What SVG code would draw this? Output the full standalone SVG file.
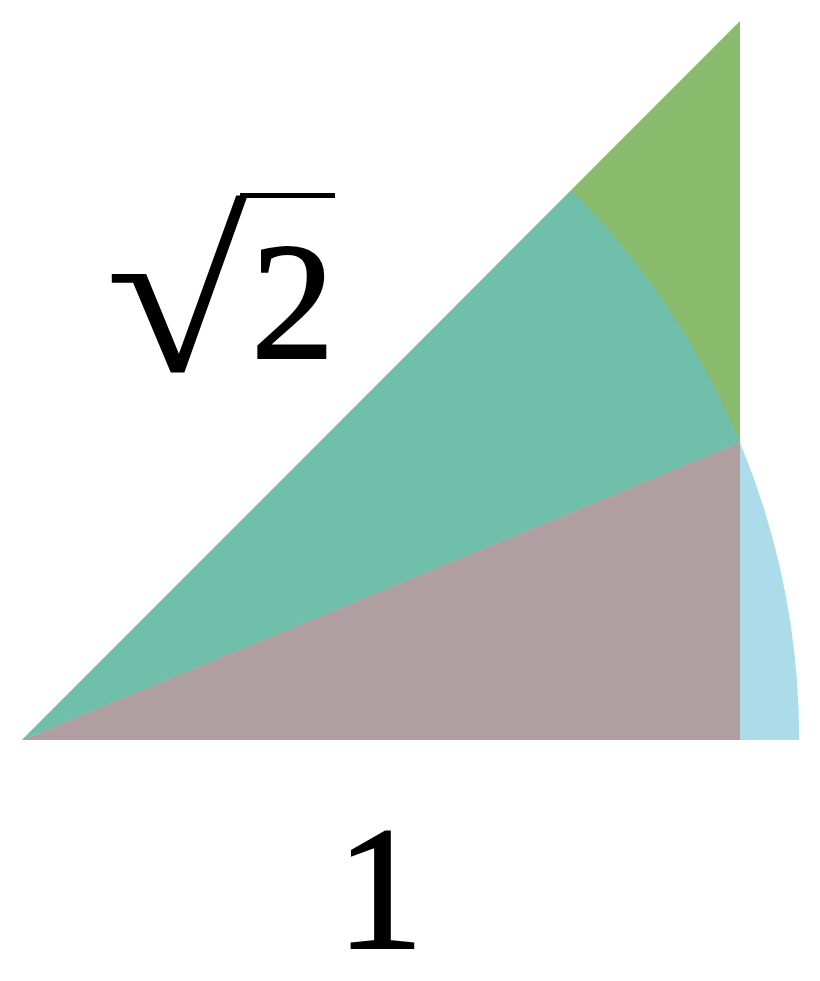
<svg xmlns="http://www.w3.org/2000/svg" width="820" height="981" viewBox="0 0 820 981">
<style>
.lbl{font-family:"Liberation Serif","DejaVu Serif",serif;fill:#000}
.thick{stroke:#000;stroke-width:2}
</style>
<rect width="820" height="981" fill="#fff"/>
<g id="shapes">
<polygon id="big-triangle" points="22,740 740,21 740,740" fill="#8aba6b"/>
<path id="teal-sector" d="M22,740 L740,442.6 A777.2,777.2 0 0 0 571.5,190.5 Z" fill="#6fbfab"/>
<path id="blue-sector" d="M22,740 L799.2,740 A777.2,777.2 0 0 0 740,442.6 Z" fill="#acdcea"/>
<polygon id="mauve-triangle" points="22,740 740,740 740,442.6" fill="#b09fa0"/>
</g>
<g id="labels">
<text class="lbl" transform="translate(110,371) scale(1.17,1)" x="-4" y="0" font-size="222">√</text>
<line x1="240" y1="195.5" x2="335" y2="195.5" stroke="#000" stroke-width="5"/>
<text class="lbl thick" x="251" y="358" font-size="167">2</text>
<text class="lbl thick" x="380" y="948" font-size="175" text-anchor="middle">1</text>
</g>
</svg>
